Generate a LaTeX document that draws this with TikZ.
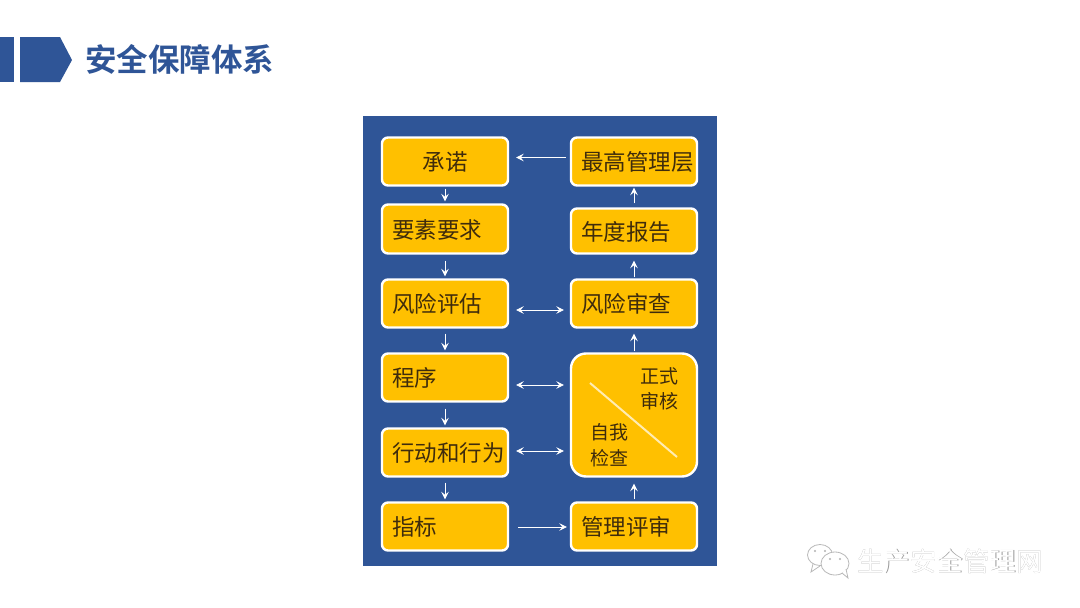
\documentclass[tikz,border=0pt]{standalone}
\usepackage{fontspec}
\setmainfont{Noto Sans CJK SC}
\newfontfamily\cjkbold{Noto Sans CJK SC Bold}
\usetikzlibrary{arrows.meta}
\definecolor{panelblue}{HTML}{2F5597}
\definecolor{boxgold}{HTML}{FFC000}
\definecolor{inkbrown}{HTML}{3F2C0C}
\definecolor{titleblue}{HTML}{2F5597}
\tikzset{
  x=1pt,y=-1pt,
  boxbase/.style={draw=white,line width=2.4pt,fill=boxgold,rounded corners=6pt,text=inkbrown,
    inner sep=0pt,font=\fontsize{22.5}{26}\selectfont},
  leftbox/.style={boxbase,minimum width=126pt,text width=106pt,align=left,text height=21pt,text depth=3pt},
  centerbox/.style={boxbase,minimum width=126pt,text width=106pt,align=center,text height=21pt,text depth=3pt},
  flow/.style={draw=white,line width=0.8pt,-{Stealth[length=7.5pt,width=7.5pt,inset=3pt]}},
  twoway/.style={draw=white,line width=0.8pt,{Stealth[length=7.5pt,width=7.5pt,inset=3pt]}-{Stealth[length=7.5pt,width=7.5pt,inset=3pt]}},
  smalltext/.style={text=inkbrown,font=\fontsize{19}{22}\selectfont,inner sep=0pt},
  markcolor/.style={fill=titleblue,draw=none},
  wmtext/.style={font=\fontsize{26.5}{30}\selectfont,inner sep=0pt,anchor=west},
  wmicon/.style={draw=black!28,line width=0.8pt,fill=none},
}
\begin{document}
\begin{tikzpicture}
\useasboundingbox (0,0) rectangle (1080,608);
\fill[white] (0,0) rectangle (1080,608);
% header
\path[markcolor] (0,37) -- (14,37) -- (14,82) -- (0,82) -- cycle;
\path[markcolor] (20,37) -- (60,37) -- (72,60) -- (60,82) -- (20,82) -- cycle;
\node[anchor=west,inner sep=0pt,text=titleblue,font=\cjkbold\fontsize{31.5}{35}\selectfont] (title) at (85,59.5) {安全保障体系};
% panel
\fill[panelblue] (363,116) rectangle (717,566);
% left column
\node[centerbox,minimum height=48pt] (cn) at (445,161.5) {承诺};
\node[leftbox,minimum height=49pt] (ys) at (445,229) {要素要求};
\node[leftbox,minimum height=48pt] (fx) at (445,303.5) {风险评估};
\node[leftbox,minimum height=48pt] (cx) at (445,377.5) {程序};
\node[leftbox,minimum height=48pt] (xd) at (445,452.5) {行动和行为};
\node[leftbox,minimum height=48pt] (zb) at (445,526.5) {指标};
% right column
\node[leftbox,minimum height=48pt] (zg) at (634,161.5) {最高管理层};
\node[leftbox,minimum height=45pt] (nd) at (634,231) {年度报告};
\node[leftbox,minimum height=48pt] (fs) at (634,303.5) {风险审查};
\node[boxbase,minimum width=126pt,minimum height=123pt,rounded corners=15pt] (zs) at (634,415) {};
\node[leftbox,minimum height=48pt] (gl) at (634,526.5) {管理评审};
% audit box contents
\coordinate (d1) at (590,383);
\coordinate (d2) at (677,457);
\draw[draw=white!70!boxgold,line width=2pt] (d1) -- (d2);
\node[smalltext,align=center] (zsa) at (659,389) {正式\\[3.5pt]审核};
\node[smalltext,align=center] (zsb) at (609,445) {自我\\[4pt]检查};
% vertical connectors
\path[flow] ([yshift=-2pt]cn.south) -- ([yshift=2pt]ys.north);
\path[flow] ([yshift=-6pt]ys.south) -- ([yshift=2pt]fx.north);
\path[flow] ([yshift=-5pt]fx.south) -- ([yshift=2pt]cx.north);
\path[flow] ([yshift=-6pt]cx.south) -- ([yshift=2pt]xd.north);
\path[flow] ([yshift=-5pt]xd.south) -- ([yshift=2pt]zb.north);
\path[flow] ([yshift=2pt]gl.north) -- ([yshift=-6pt]zs.south);
\path[flow] ([yshift=1pt]zs.north) -- ([yshift=-5pt]fs.south);
\path[flow] ([yshift=1pt]fs.north) -- ([yshift=-6pt]nd.south);
\path[flow] ([yshift=4pt]nd.north) -- ([yshift=-1pt]zg.south);
% horizontal connectors
\path[flow] ([xshift=-4pt,yshift=4pt]zg.west) -- ([xshift=7pt,yshift=4pt]cn.east);
\path[twoway] ([xshift=7pt,yshift=-6.5pt]fx.east) -- ([xshift=-6pt,yshift=-6.5pt]fs.west);
\path[twoway] ([xshift=7pt,yshift=-7.5pt]cx.east) -- ([xshift=-6pt,yshift=30pt]zs.west);
\path[twoway] ([xshift=7pt,yshift=1.5pt]xd.east) -- ([xshift=-6pt,yshift=-36pt]zs.west);
\path[flow] ([xshift=9pt,yshift=-0.5pt]zb.east) -- ([xshift=-3pt,yshift=-0.5pt]gl.west);
% watermark
\node[wmtext,text=black!40] (wmshade) at (857.7,561.7) {生产安全管理网};
\node[wmtext,text=white] (wm) at (857,561) {生产安全管理网};
\draw[wmicon] (820,555) ellipse (12.5 and 10.5);
\draw[wmicon] (813,564) -- (811,572) -- (820,566);
\draw[wmicon,fill=white] (835,563.5) ellipse (14 and 11.5);
\draw[wmicon,fill=white] (842,573) -- (848,578) -- (846,569);
\fill[black!30] (815,551) circle (1.2) (825,551) circle (1.2) (830,559) circle (1.2) (840,559) circle (1.2);
\end{tikzpicture}
\end{document}
